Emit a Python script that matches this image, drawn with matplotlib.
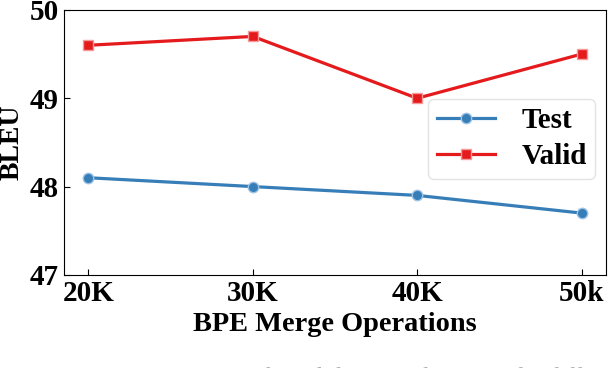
import matplotlib.pyplot as plt

merges = [20, 30, 40, 50]
tick_labels = ["20K", "30K", "40K", "50k"]
test_bleu = [48.1, 48.0, 47.9, 47.7]
valid_bleu = [49.6, 49.7, 49.0, 49.5]

plt.rcParams['font.family'] = ['Liberation Serif', 'DejaVu Serif']
plt.rcParams['font.weight'] = 'bold'

fig = plt.figure(figsize=(6.08, 3.68), dpi=100)
ax = fig.add_axes([0.105, 0.253, 0.892, 0.72])

ax.plot(merges, test_bleu, color='#377eb8', lw=2.3, marker='o', ms=7.5,
        mfc='#377eb8', mec='#9cc2e5', mew=1.0, label='Test')
ax.plot(merges, valid_bleu, color='#e41a1c', lw=2.3, marker='s', ms=7.5,
        mfc='#e41a1c', mec='#f59a9b', mew=1.0, label='Valid')

ax.set_xticks(merges)
ax.set_xticklabels(tick_labels)
ax.set_ylim(47, 50)
ax.set_yticks([47, 48, 49, 50])
ax.tick_params(direction='in', labelsize=21, length=4)
for lbl in ax.get_xticklabels() + ax.get_yticklabels():
    lbl.set_fontweight('bold')

ax.set_xlabel("BPE Merge Operations", fontsize=20.4, fontweight='bold', labelpad=4)
ax.set_ylabel("BLEU", fontsize=20, fontweight='bold', labelpad=4)

leg = ax.legend(loc='upper right', bbox_to_anchor=(0.98, 0.665),
                prop={'weight': 'bold', 'size': 21}, handlelength=2.0,
                borderpad=0.3, labelspacing=0.3, handletextpad=0.9,
                borderaxespad=0.0, fancybox=True, framealpha=0.8)
leg.get_frame().set_edgecolor('#dddddd')

fig.text(0.0, 1 / 368, "Figure 3:  BLEU scores on the validation and test sets for different",
         fontsize=17, color='#aaaaaa', fontweight='normal', va='top', ha='left')

fig.savefig("out.png", dpi=100)
